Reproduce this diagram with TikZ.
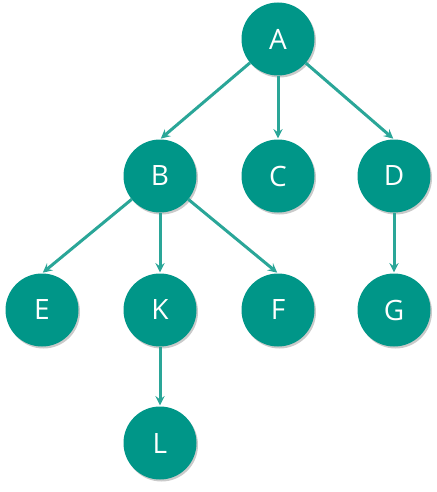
\documentclass[tikz,border=0pt]{standalone}
\usepackage{fontspec}
\setmainfont{Open Sans}
\usepackage{tikz}
\usetikzlibrary{arrows,shadows}

\definecolor{nodeteal}{HTML}{009688}
\definecolor{edgeteal}{HTML}{2AA698}

\tikzset{
  treenode/.style={circle, fill=nodeteal, text=white, minimum size=73pt, inner sep=0pt,
    font=\fontsize{28}{32}\selectfont,
    drop shadow={shadow xshift=1.5pt, shadow yshift=-2pt, opacity=0.35, fill=black!60}},
  treeedge/.style={-stealth, draw=edgeteal, line width=3pt, shorten >=1pt}
}

\begin{document}
\begin{tikzpicture}[x=1pt,y=-1pt]
\useasboundingbox (0,0) rectangle (436,492);

\node[treenode] (A) at (278,39) {A};

\node[treenode] (B) at (160,176) {B};
\node[treenode] (C) at (278,176) {C};
\node[treenode] (D) at (394,176) {D};

\node[treenode] (E) at (42,310) {E};
\node[treenode] (K) at (160,310) {K};
\node[treenode] (F) at (278,310) {F};
\node[treenode] (G) at (394,310) {G};

\node[treenode] (L) at (160,443) {L};


\draw[treeedge] (A) -- (B.north);

\draw[treeedge] (A) -- (C.north);

\draw[treeedge] (A) -- (D.north);

\draw[treeedge] (B) -- (E.north);

\draw[treeedge] (B) -- (K.north);

\draw[treeedge] (B) -- (F.north);

\draw[treeedge] (D) -- (G.north);

\draw[treeedge] (K) -- (L.north);
\end{tikzpicture}
\end{document}
